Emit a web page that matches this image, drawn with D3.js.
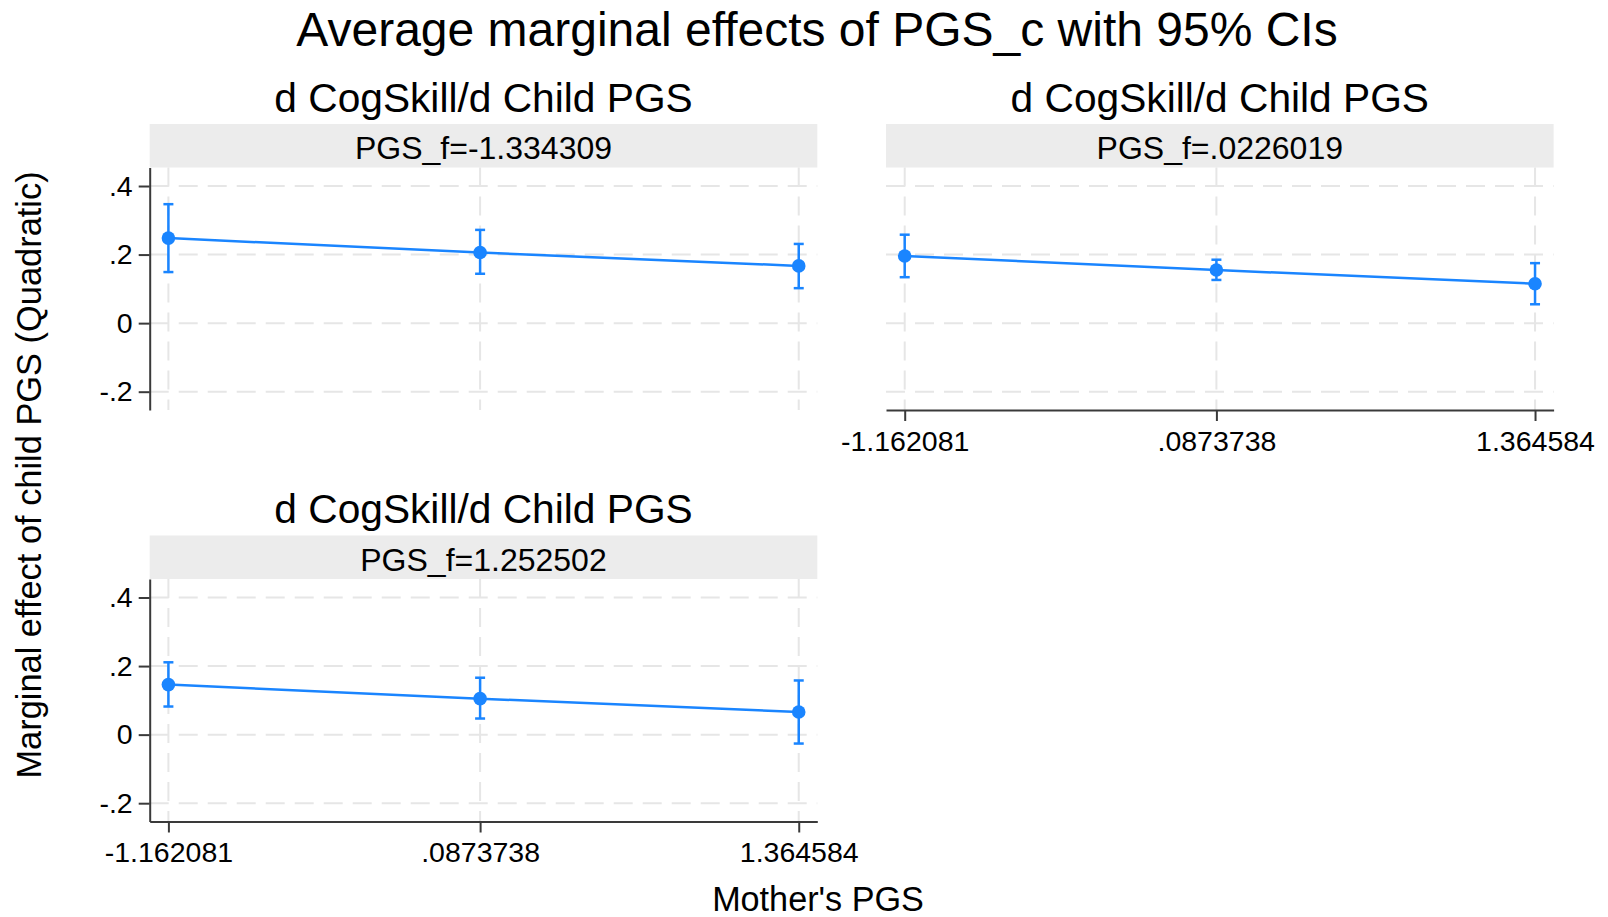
<!DOCTYPE html>
<html>
<head>
<meta charset="utf-8">
<script src="https://cdn.jsdelivr.net/npm/d3@7"></script>
<style>
    html, body { margin: 0; padding: 0; background: #ffffff; }
    svg { display: block; font-family: "Liberation Sans", Arial, Helvetica, sans-serif; }
</style>
</head>
<body>
<svg width="1608" height="917"></svg>
<script>
// Values
var mothersPGS = [-1.162081, 0.0873738, 1.364584];
var xTickLabels = ['-1.162081', '.0873738', '1.364584'];
var yTicks = [-0.2, 0, 0.2, 0.4];
var yTickLabels = ['-.2', '0', '.2', '.4'];

var panelTitles = ['d CogSkill/d Child PGS', 'd CogSkill/d Child PGS', 'd CogSkill/d Child PGS'];
var panelLabels = ['PGS_f=-1.334309', 'PGS_f=.0226019', 'PGS_f=1.252502'];

// one row per panel (father's PGS level), one value per mother's PGS level
var estimates = [
    [0.248, 0.206, 0.167],
    [0.196, 0.155, 0.115],
    [0.146, 0.105, 0.066]
];
var ciLower = [
    [0.149, 0.144, 0.102],
    [0.134, 0.126, 0.055],
    [0.082, 0.047, -0.026]
];
var ciUpper = [
    [0.347, 0.272, 0.231],
    [0.258, 0.185, 0.175],
    [0.211, 0.166, 0.158]
];

var chart = (function () {
    "use strict";

    var lineColor = '#1a85ff';
    var gridColor = '#e6e6e6';
    var axisColor = '#3a3a3a';
    var stripColor = '#ececec';

    // panel grid: column left edges and row plot tops
    var colLeft = [149.7, 886];
    var rowTop = [167.5, 579];
    var plotWidth = 667.6;
    var plotHeight = 242.5;
    var stripHeight = 43.5;

    // which axes each panel gets (Stata shares them on the outer edges)
    var panels = [
        { col: 0, row: 0, yAxis: true, xAxis: false },
        { col: 1, row: 0, yAxis: false, xAxis: true },
        { col: 0, row: 1, yAxis: true, xAxis: true }
    ];

    var svg = d3.select('svg');

    var x = d3.scaleLinear()
        .domain([-1.237048, 1.439])
        .range([0, plotWidth]);

    var y = d3.scaleLinear()
        .domain([-0.2534, 0.454])
        .range([plotHeight, 0]);

    var line = d3.line()
        .x(function (d) { return x(d.x); })
        .y(function (d) { return y(d.est); });

    function drawPanel(p, index) {
        var left = colLeft[p.col];
        var top = rowTop[p.row];

        var g = svg.append('g')
            .attr('transform', 'translate(' + left + ',' + top + ')');

        // Subtitle above the strip
        g.append('text')
            .attr('x', plotWidth / 2)
            .attr('y', -56)
            .attr('text-anchor', 'middle')
            .attr('font-size', 40.7)
            .attr('fill', '#000')
            .text(panelTitles[index]);

        // By-variable strip
        g.append('rect')
            .attr('x', 0)
            .attr('y', -stripHeight)
            .attr('width', plotWidth)
            .attr('height', stripHeight)
            .attr('fill', stripColor);

        g.append('text')
            .attr('x', plotWidth / 2)
            .attr('y', -8.5)
            .attr('text-anchor', 'middle')
            .attr('font-size', 32)
            .attr('fill', '#000')
            .text(panelLabels[index]);

        // Dashed grid lines
        g.append('g')
            .selectAll('line')
            .data(yTicks)
            .enter()
            .append('line')
            .attr('x1', 0)
            .attr('x2', plotWidth)
            .attr('y1', function (d) { return y(d); })
            .attr('y2', function (d) { return y(d); })
            .attr('stroke', gridColor)
            .attr('stroke-width', 2)
            .attr('stroke-dasharray', '19,10');

        g.append('g')
            .selectAll('line')
            .data(mothersPGS)
            .enter()
            .append('line')
            .attr('x1', function (d) { return x(d); })
            .attr('x2', function (d) { return x(d); })
            .attr('y1', 0)
            .attr('y2', plotHeight)
            .attr('stroke', gridColor)
            .attr('stroke-width', 2)
            .attr('stroke-dasharray', '19,10');

        // Axes
        if (p.yAxis) {
            var ya = g.append('g')
                .call(d3.axisLeft(y)
                    .tickValues(yTicks)
                    .tickFormat(function (d, i) { return yTickLabels[i]; })
                    .tickSize(11)
                    .tickSizeOuter(0)
                    .tickPadding(6));
            styleAxis(ya);
        }

        if (p.xAxis) {
            var xa = g.append('g')
                .attr('transform', 'translate(0,' + plotHeight + ')')
                .call(d3.axisBottom(x)
                    .tickValues(mothersPGS)
                    .tickFormat(function (d, i) { return xTickLabels[i]; })
                    .tickSize(11)
                    .tickSizeOuter(0)
                    .tickPadding(9.5));
            styleAxis(xa);
        }

        var pts = mothersPGS.map(function (m, i) {
            return { x: m, est: estimates[index][i], lo: ciLower[index][i], hi: ciUpper[index][i] };
        });

        // Connecting line
        g.append('path')
            .datum(pts)
            .attr('fill', 'none')
            .attr('stroke', lineColor)
            .attr('stroke-width', 2.5)
            .attr('d', line);

        // 95% CI bars with caps
        var ci = g.append('g')
            .selectAll('g')
            .data(pts)
            .enter()
            .append('g')
            .attr('stroke', lineColor)
            .attr('stroke-width', 2.5);

        ci.append('line')
            .attr('x1', function (d) { return x(d.x); })
            .attr('x2', function (d) { return x(d.x); })
            .attr('y1', function (d) { return y(d.lo); })
            .attr('y2', function (d) { return y(d.hi); });

        ci.append('line')
            .attr('x1', function (d) { return x(d.x) - 5; })
            .attr('x2', function (d) { return x(d.x) + 5; })
            .attr('y1', function (d) { return y(d.lo); })
            .attr('y2', function (d) { return y(d.lo); });

        ci.append('line')
            .attr('x1', function (d) { return x(d.x) - 5; })
            .attr('x2', function (d) { return x(d.x) + 5; })
            .attr('y1', function (d) { return y(d.hi); })
            .attr('y2', function (d) { return y(d.hi); });

        // Point estimates
        g.append('g')
            .selectAll('circle')
            .data(pts)
            .enter()
            .append('circle')
            .attr('cx', function (d) { return x(d.x); })
            .attr('cy', function (d) { return y(d.est); })
            .attr('r', 6.8)
            .attr('fill', lineColor);
    }

    function styleAxis(sel) {
        sel.select('.domain')
            .attr('stroke', axisColor)
            .attr('stroke-width', 2);
        sel.selectAll('.tick line')
            .attr('stroke', axisColor)
            .attr('stroke-width', 2);
        sel.selectAll('.tick text')
            .attr('fill', '#000')
            .attr('font-size', 28.5)
            .attr('font-family', '"Liberation Sans", Arial, Helvetica, sans-serif');
    }

    panels.forEach(drawPanel);

    // Overall title
    svg.append('text')
        .attr('x', 817)
        .attr('y', 46)
        .attr('text-anchor', 'middle')
        .attr('font-size', 48)
        .attr('fill', '#000')
        .text('Average marginal effects of PGS_c with 95% CIs');

    // Shared axis titles
    svg.append('text')
        .attr('x', 818)
        .attr('y', 911)
        .attr('text-anchor', 'middle')
        .attr('font-size', 34.2)
        .attr('fill', '#000')
        .text("Mother's PGS");

    svg.append('text')
        .attr('transform', 'translate(41,475) rotate(-90)')
        .attr('text-anchor', 'middle')
        .attr('font-size', 34.4)
        .attr('fill', '#000')
        .text('Marginal effect of child PGS (Quadratic)');

    return { svg: svg };
})();
</script>
</body>
</html>
